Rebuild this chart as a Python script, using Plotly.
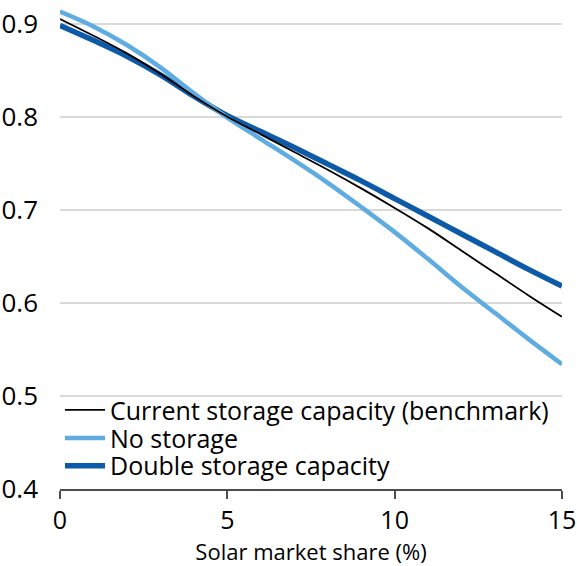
import plotly.graph_objects as go

x_share = list(range(16))
benchmark = [0.905, 0.887, 0.868, 0.846, 0.822, 0.800, 0.781, 0.762, 0.743, 0.723,
             0.702, 0.680, 0.656, 0.632, 0.608, 0.585]
no_storage = [0.913, 0.897, 0.877, 0.853, 0.825, 0.799, 0.776, 0.753, 0.729, 0.703,
              0.676, 0.647, 0.617, 0.589, 0.561, 0.534]
double_storage = [0.898, 0.882, 0.865, 0.845, 0.822, 0.801, 0.784, 0.767, 0.749, 0.731,
                  0.712, 0.693, 0.674, 0.655, 0.636, 0.618]

y_ticks = [0.4, 0.5, 0.6, 0.7, 0.8, 0.9]
x_ticks = [0, 5, 10, 15]

FONT = "Open Sans"
LEG_FONT = dict(size=25, family=FONT, color="black")

fig = go.Figure()
fig.add_trace(go.Scatter(x=x_share, y=double_storage, mode="lines", name="Double storage capacity",
                         line=dict(color="#0D5AA9", width=5.5, shape="spline"), legend="legend3"))
fig.add_trace(go.Scatter(x=x_share, y=no_storage, mode="lines", name="No storage",
                         line=dict(color="#5FACE1", width=4.5, shape="spline"), legend="legend2"))
fig.add_trace(go.Scatter(x=x_share, y=benchmark, mode="lines", name="Current storage capacity (benchmark)",
                         line=dict(color="#000000", width=1.8, shape="spline"), legend="legend"))

def leg(yc):
    return dict(x=0.0, y=yc, xanchor="left", yanchor="middle", bgcolor="rgba(0,0,0,0)",
                font=LEG_FONT, itemwidth=40, borderwidth=0)

fig.update_layout(
    width=577, height=566,
    margin=dict(l=60, r=15, t=5, b=77, autoexpand=False),
    plot_bgcolor="white", paper_bgcolor="white",
    font=dict(family=FONT, size=25, color="black"),
    showlegend=True,
    legend=leg(0.163),
    legend2=leg(0.105),
    legend3=leg(0.0476),
    xaxis=dict(range=[0, 15], tickvals=x_ticks, showgrid=False, zeroline=False, automargin=False,
               showline=True, linecolor="#4D4D4D", linewidth=1.5,
               ticks="outside", ticklen=8, tickcolor="#4D4D4D", tickwidth=1.5,
               tickfont=dict(size=25),
               title=dict(text="Solar market share (%)", font=dict(size=22), standoff=6)),
    yaxis=dict(range=[0.4, 0.92], tickvals=y_ticks, ticktext=[f"{v:.1f}" for v in y_ticks],
               showgrid=True, gridcolor="#D9D9D9", gridwidth=1.5, zeroline=False, automargin=False,
               showline=False, ticks="", ticklabelstandoff=21, tickfont=dict(size=26)),
)

fig.write_html("out.html", config={"displayModeBar": False},
               post_script="document.body.style.margin='0';")
